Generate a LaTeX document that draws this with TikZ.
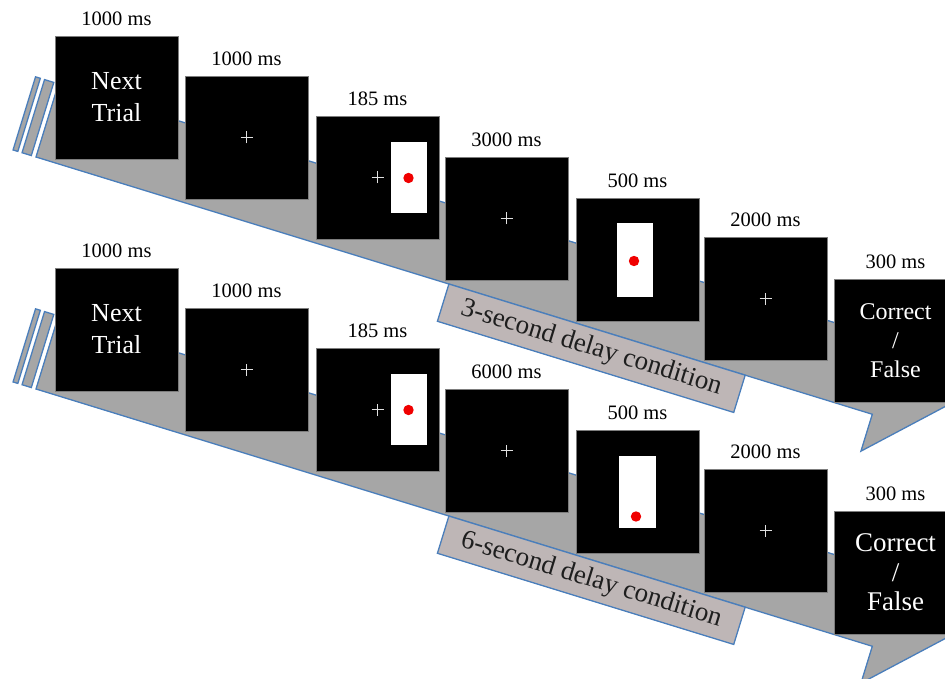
\documentclass[tikz,border=0pt]{standalone}
\usepackage{fontspec}
\setmainfont{Liberation Serif}
\definecolor{bandgray}{RGB}{166,166,166}
\definecolor{edgeblue}{RGB}{74,126,187}
\definecolor{labelfill}{RGB}{190,182,182}
\definecolor{boxedge}{RGB}{125,125,125}
\definecolor{dotred}{RGB}{240,0,0}
\tikzset{
  screen/.style={fill=black, draw=boxedge, line width=0.6pt, minimum size=123pt,
    inner sep=0pt, text=white, align=center},
  timelbl/.style={anchor=base, font=\fontsize{20.5}{24}\selectfont, inner sep=0pt},
  band/.style={fill=bandgray, draw=edgeblue, line width=1.3pt, line join=miter},
  condlabel/.style={fill=labelfill, draw=edgeblue, line width=1.3pt, minimum width=310pt,
    minimum height=39pt, inner sep=0pt, text={rgb,255:red,30;green,30;blue,30},
    font=\fontsize{27}{30}\selectfont},
  plusline/.style={draw={rgb,255:red,225;green,225;blue,225}, line width=1.1pt},
  nexttxt/.style={font=\fontsize{26}{32}\selectfont},
}
\begin{document}
\begin{tikzpicture}[x=1pt,y=-1pt]
\useasboundingbox (0,0) rectangle (945,679);
\clip (0,0) rectangle (945,679);

% bands
\foreach \dy/\txt/\nm in {0/3-second delay condition/labA, 232/6-second delay condition/labB} {
  \begin{scope}[shift={(36,157+\dy)}, rotate=-17.1]
    \draw[band] (0,0) -- (875,0) -- (875,38.6) -- (951.8,-38.25) -- (875,-115.1)
      -- (875,-76.5) -- (0,-76.5) -- cycle;
    \draw[band] (-24,0) -- (-19,0) -- (-19,-76.5) -- (-24,-76.5) -- cycle;
    \draw[band] (-14.6,0) -- (-4.9,0) -- (-4.9,-76.5) -- (-14.6,-76.5) -- cycle;
    \node[condlabel, rotate=-17.1] (\nm) at (587,19.5) {\txt};
  \end{scope}
}

% top row screens
\node[screen, nexttxt] (a1) at (116.5,97.5) {Next\\Trial};
\node[screen] (a2) at (246.5,137.5) {};
\node[screen] (a3) at (377.5,177.5) {};
\node[screen] (a4) at (506.5,218.5) {};
\node[screen] (a5) at (637.5,259.5) {};
\node[screen] (a6) at (765.5,298.5) {};
\node[screen, font=\fontsize{24}{29}\selectfont] (a7) at (895.5,340.5) {Correct\\/\\False};

% bottom row screens
\node[screen, nexttxt] (b1) at (116.5,329.5) {Next\\Trial};
\node[screen] (b2) at (246.5,369.5) {};
\node[screen] (b3) at (377.5,409.5) {};
\node[screen] (b4) at (506.5,450.5) {};
\node[screen] (b5) at (637.5,491.5) {};
\node[screen] (b6) at (765.5,530.5) {};
\node[screen, font=\fontsize{27}{29.5}\selectfont] (b7) at (895.5,572.5) {\raisebox{2pt}{\parbox{123pt}{\centering Correct\\/\\False}}};

% time labels
\node[timelbl] (a1l) at ([yshift=10pt]a1.north) {1000 ms};
\node[timelbl] (a2l) at ([yshift=10pt]a2.north) {1000 ms};
\node[timelbl] (a3l) at ([yshift=10pt]a3.north) {185 ms};
\node[timelbl] (a4l) at ([yshift=10pt]a4.north) {3000 ms};
\node[timelbl] (a5l) at ([yshift=10pt]a5.north) {500 ms};
\node[timelbl] (a6l) at ([yshift=10pt]a6.north) {2000 ms};
\node[timelbl] (a7l) at ([yshift=10pt]a7.north) {300 ms};
\node[timelbl] (b1l) at ([yshift=10pt]b1.north) {1000 ms};
\node[timelbl] (b2l) at ([yshift=10pt]b2.north) {1000 ms};
\node[timelbl] (b3l) at ([yshift=10pt]b3.north) {185 ms};
\node[timelbl] (b4l) at ([yshift=10pt]b4.north) {6000 ms};
\node[timelbl] (b5l) at ([yshift=10pt]b5.north) {500 ms};
\node[timelbl] (b6l) at ([yshift=10pt]b6.north) {2000 ms};
\node[timelbl] (b7l) at ([yshift=10pt]b7.north) {300 ms};

% fixation crosses
\foreach \n in {a2,a3,a4,a6,b2,b3,b4,b6} {
  \draw[plusline] ([xshift=-6pt]\n.center) -- ([xshift=6pt]\n.center);
  \draw[plusline] ([yshift=-6pt]\n.center) -- ([yshift=6pt]\n.center);
}

% cue screens (185 ms)
\foreach \n in {a3,b3} {
  \fill[white] ([shift={(13.5,-35.5)}]\n.center) rectangle ([shift={(49.5,35.5)}]\n.center);
  \fill[dotred] ([shift={(31,0.5)}]\n.center) circle[radius=5.2pt];
}

% probe screens (500 ms)
\fill[white] ([shift={(-20.5,-36)}]a5.center) rectangle ([shift={(15.5,37)}]a5.center);
\fill[dotred] ([shift={(-3.5,1.5)}]a5.center) circle[radius=5.2pt];
\fill[white] ([shift={(-18.5,-36)}]b5.center) rectangle ([shift={(18.5,36)}]b5.center);
\fill[dotred] ([shift={(-1.5,25)}]b5.center) circle[radius=5.2pt];
\end{tikzpicture}
\end{document}
